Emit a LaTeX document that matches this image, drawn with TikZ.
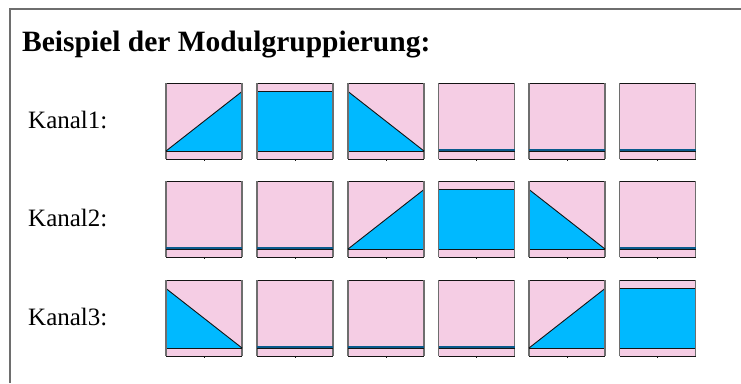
\documentclass[tikz,border=0pt]{standalone}
\usepackage{fontspec}
\setmainfont{Liberation Serif}
\definecolor{tpink}{RGB}{245,205,228}
\definecolor{tblue}{RGB}{0,185,255}
\definecolor{tline}{RGB}{20,20,20}
\definecolor{tgray}{RGB}{110,110,110}
\definecolor{tdeep}{RGB}{10,90,140}
\tikzset{
  tfill/.style={fill=tblue},
  tedge/.style={draw=tline,line width=0.9pt},
  tside/.style={draw=tgray,line width=1.4pt},
  pics/tileframe/.style={code={
    \fill[tpink] (0,0) rectangle (76,76);
    \draw[tedge] (0,0) -- (76,0);
    \draw[tedge] (0,68) -- (76,68);
    \draw[tedge] (0,76) -- (76,76);
    \draw[tside] (0,0) -- (0,76);
    \draw[tside] (76,0) -- (76,76);
    \draw[draw=tline,line width=0.7pt] (38,76) -- (38,78);
  }},
  pics/tileup/.style={code={
    \pic {tileframe};
    \fill[tfill] (0,68) -- (76,8.5) -- (76,68) -- cycle;
    \draw[tedge] (0,68) -- (76,8.5);
    \draw[tedge] (0,68) -- (76,68);
    \draw[tside] (76,0) -- (76,76);
  }},
  pics/tiledown/.style={code={
    \pic {tileframe};
    \fill[tfill] (0,8.5) -- (76,68) -- (0,68) -- cycle;
    \draw[tedge] (0,8.5) -- (76,68);
    \draw[tedge] (0,68) -- (76,68);
    \draw[tside] (0,0) -- (0,76);
  }},
  pics/tilefull/.style={code={
    \pic {tileframe};
    \fill[tfill] (0,8.5) rectangle (76,68);
    \draw[tedge] (0,8.5) -- (76,8.5);
    \draw[tedge] (0,68) -- (76,68);
    \draw[tside] (0,0) -- (0,76);
    \draw[tside] (76,0) -- (76,76);
  }},
  pics/tileempty/.style={code={
    \pic {tileframe};
    \draw[draw=tdeep,line width=1.6pt] (0,67.2) -- (76,67.2);
    \draw[tedge] (0,68) -- (76,68);
  }},
  lbl/.style={anchor=base west,inner sep=0pt,font=\fontsize{25}{25}\selectfont},
}
\begin{document}
\begin{tikzpicture}[x=1pt,y=-1pt]
\useasboundingbox (0,0) rectangle (741,383);
\draw[draw=tgray,line width=1.3pt] (10,383) -- (10,9) -- (741,9);
\node[anchor=base west,inner sep=0pt,font=\fontsize{29.5}{29.5}\selectfont\bfseries] (title) at (22,51) {Beispiel der Modulgruppierung:};
\node[lbl] (k1) at (28,128) {Kanal1:};
\node[lbl] (k2) at (28,226) {Kanal2:};
\node[lbl] (k3) at (28,325) {Kanal3:};
% row 1
\pic at (166,83) {tileup};
\pic at (257,83) {tilefull};
\pic at (348,83) {tiledown};
\pic at (438.5,83) {tileempty};
\pic at (529,83) {tileempty};
\pic at (619.5,83) {tileempty};
% row 2
\pic at (166,181) {tileempty};
\pic at (257,181) {tileempty};
\pic at (348,181) {tileup};
\pic at (438.5,181) {tilefull};
\pic at (529,181) {tiledown};
\pic at (619.5,181) {tileempty};
% row 3
\pic at (166,280) {tiledown};
\pic at (257,280) {tileempty};
\pic at (348,280) {tileempty};
\pic at (438.5,280) {tileempty};
\pic at (529,280) {tileup};
\pic at (619.5,280) {tilefull};
\end{tikzpicture}
\end{document}
